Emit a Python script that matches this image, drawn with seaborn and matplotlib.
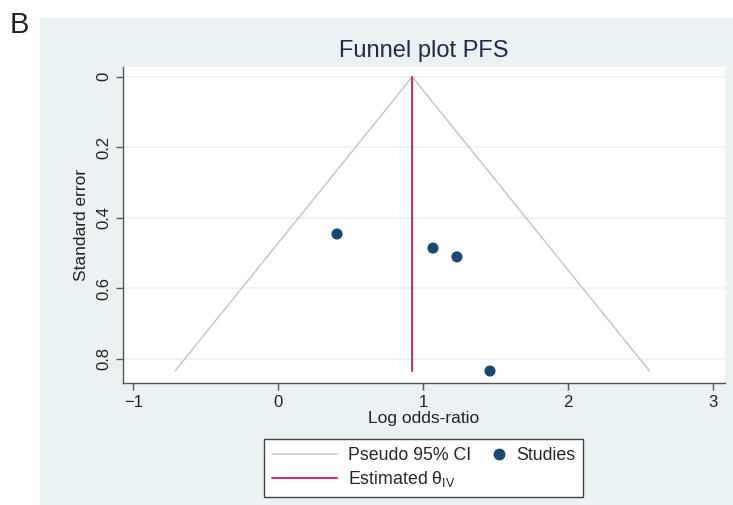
import matplotlib
matplotlib.use("Agg")
import matplotlib.pyplot as plt
import seaborn as sns
import pandas as pd
from matplotlib.patches import Rectangle
from matplotlib.legend_handler import HandlerBase

# study estimates
log_or = [0.405, 1.067, 1.232, 1.46]
std_err = [0.446, 0.486, 0.511, 0.835]
theta_iv = 0.924
se_max = 0.835
x_ticks = [-1, 0, 1, 2, 3]
y_ticks = [0, 0.2, 0.4, 0.6, 0.8]

studies = pd.DataFrame({'log_or': log_or, 'se': std_err})

# pseudo 95% CI funnel
funnel_x = [theta_iv - 1.96 * se_max, theta_iv, theta_iv + 1.96 * se_max]
funnel_y = [se_max, 0, se_max]


class DotAtRight(HandlerBase):
    # put the marker near the label instead of the middle of the handle
    def create_artists(self, legend, orig_handle, xdescent, ydescent, width, height, fontsize, trans):
        m = plt.Line2D([width - 4], [height / 2 - ydescent], ls='none', marker='o',
                       markersize=orig_handle.get_markersize(), color=orig_handle.get_color(),
                       transform=trans)
        return [m]


sns.set_style('white')
plt.rcParams['font.family'] = ['Liberation Sans', 'DejaVu Sans']

fig = plt.figure(figsize=(7.33, 5.05), dpi=100)
fig.patches.append(Rectangle((40 / 733, 0), 1, 1 - 18 / 505, transform=fig.transFigure,
                             facecolor='#EAF2F3', edgecolor='none', zorder=-5))
fig.text(19 / 733, 1 - 25 / 505, 'B', fontsize=21, va='center', ha='center', color='#222222')

ax = fig.add_axes([123 / 733, 1 - 383 / 505, (725 - 123) / 733, (383 - 67) / 505])
ax.set_zorder(2)
ax.set_facecolor('white')

ci_line, = ax.plot(funnel_x, funnel_y, color='#C8C8C8', lw=1.1, label='Pseudo 95% CI')
est_line, = ax.plot([theta_iv, theta_iv], [0, se_max], color='#D6285A', lw=1.4,
                    label=r'Estimated θ$_{\mathregular{IV}}$')
sns.scatterplot(data=studies, x='log_or', y='se', ax=ax, color='#1A4776', s=64,
                edgecolor='none', zorder=3, legend=False)

ax.set_xlim(-1.071, 3.081)
ax.set_ylim(0.869, -0.028)
ax.set_xticks(x_ticks)
ax.set_yticks(y_ticks)
ax.set_yticklabels(['0', '0.2', '0.4', '0.6', '0.8'], rotation=90, va='center')
ax.yaxis.grid(True, color='#EAF2F3', lw=1.2)
ax.xaxis.grid(False)
ax.set_axisbelow(True)

for side in ['top', 'right']:
    ax.spines[side].set_visible(False)
for side in ['left', 'bottom']:
    ax.spines[side].set_color('#555555')
    ax.spines[side].set_linewidth(1.0)
ax.tick_params(axis='both', direction='out', length=5, width=1, color='#555555',
               labelsize=12, labelcolor='#222222', left=True, bottom=True)

ax.set_xlabel('Log odds-ratio', fontsize=12.5, color='#222222', labelpad=1)
ax.set_ylabel('Standard error', fontsize=12.5, color='#222222', labelpad=5)
ax.set_title('Funnel plot PFS', fontsize=17, color='#1E2A4A', pad=7)

dot = plt.Line2D([], [], ls='none', marker='o', markersize=7.5, color='#1A4776')
leg = fig.legend([ci_line, est_line, dot],
                 ['Pseudo 95% CI', r'Estimated θ$_{\mathregular{IV}}$', 'Studies'],
                 ncol=2, loc='upper left', bbox_to_anchor=(264 / 733, 1 - 439 / 505),
                 borderaxespad=0, frameon=True, fancybox=False, edgecolor='#444444',
                 facecolor='white', fontsize=12.8, handlelength=3.65, handletextpad=0.62,
                 columnspacing=-1.74, borderpad=0.45, labelspacing=0.3, framealpha=1,
                 handler_map={dot: DotAtRight()})
leg.get_frame().set_linewidth(1.0)

fig.savefig('out.png', dpi=100)
